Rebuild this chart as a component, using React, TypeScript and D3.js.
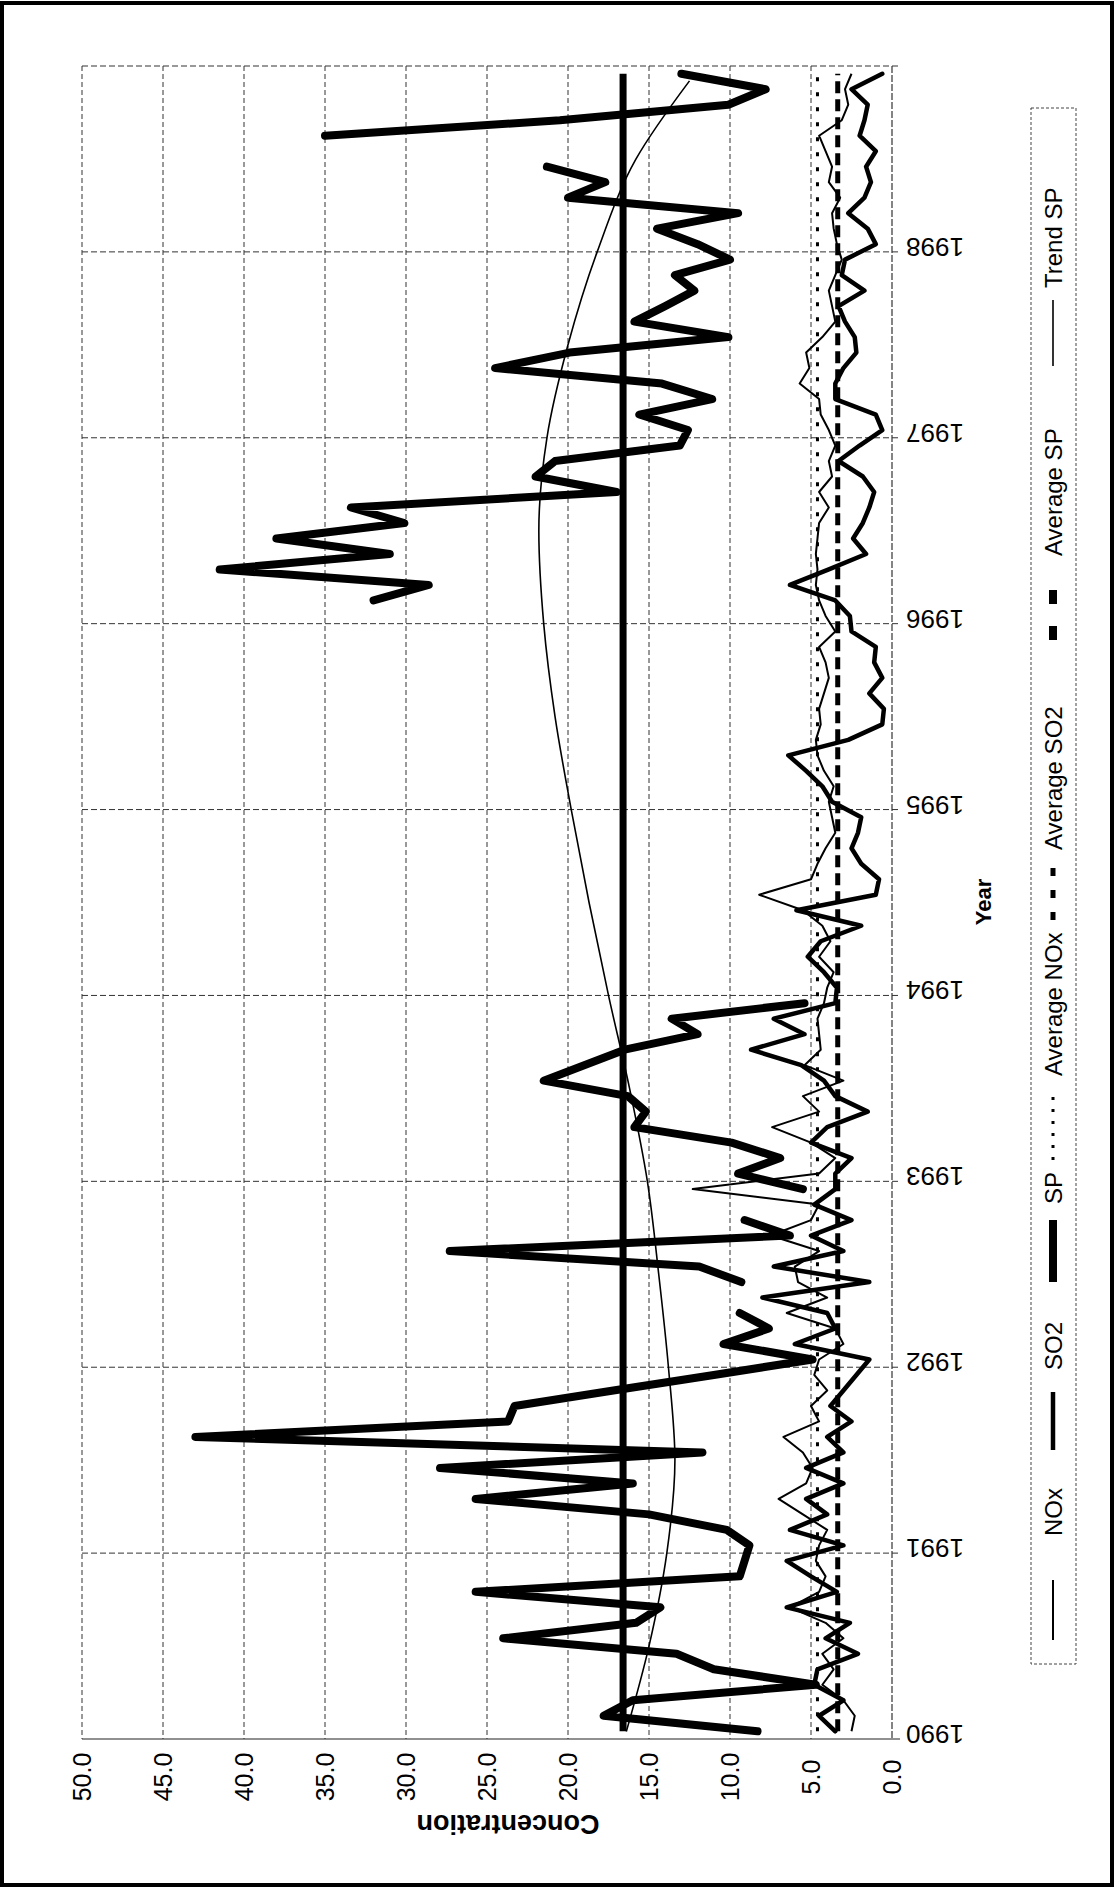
import React from "react";
import * as d3 from "d3";

// ---------- data (monthly, first value = Jan 1990) ----------
const YEARS = [1990, 1991, 1992, 1993, 1994, 1995, 1996, 1997, 1998];
const CONC_TICKS = [0, 5, 10, 15, 20, 25, 30, 35, 40, 45, 50];

const SP: (number | null)[] = [
  8.3, 17.8, 16.0, 4.7, 11.0, 13.3, 24.0, 15.8, 14.3, 25.7, 9.4, 9.1,
  8.8, 10.2, 15.0, 25.7, 16.0, 27.9, 11.7, 43.0, 23.7, 23.3, 17.2, 11.0,
  4.9, 10.4, 7.6, 9.4, null, 9.3, 11.9, 27.3, 6.3, 9.1, null, 5.5,
  9.5, 6.9, 9.9, 15.9, 15.2, 16.3, 21.5, 19.0, 16.5, 12.0, 13.6, 5.4,
  null, null, null, null, null, null, null, null, null, null, null, null,
  null, null, null, null, null, null, null, null, null, null, null, null,
  null, 32.0, 28.6, 41.5, 31.0, 38.0, 30.1, 33.4, 17.0, 22.0, 20.8, 13.1,
  12.6, 15.6, 11.1, 14.2, 24.5, 19.9, 10.1, 15.9, 14.0, 12.2, 13.4, 10.0,
  12.0, 14.5, 9.5, 20.0, 17.7, 21.3, null, 35.0, 20.5, 10.1, 7.8, 13.0,
];

const NOX: number[] = [
  2.5, 2.3, 3.0, 4.3, 3.6, 4.3, 3.0, 4.1, 6.3, 4.5, 4.1, 4.7,
  4.5, 4.0, 5.5, 7.0, 5.3, 4.9, 5.5, 6.7, 4.5, 5.0, 4.0, 4.8,
  4.5, 3.0, 3.5, 6.5, 4.0, 5.8, 6.0, 4.5, 7.5, 5.0, 4.5, 12.3,
  4.5, 3.5, 5.0, 7.4, 4.5, 5.5, 3.0, 5.4, 4.4, 4.5, 4.6, 4.2,
  4.0, 3.6, 4.5, 3.8, 4.3, 5.5, 8.2, 5.0, 4.6, 4.1, 3.5, 3.7,
  3.9, 3.6, 4.2, 4.6, 4.7, 4.4, 4.5, 4.2, 3.9, 4.1, 4.5, 3.5,
  4.1, 4.5, 4.7, 4.6, 4.7, 4.6, 4.5, 3.9, 4.5, 3.7, 3.9, 3.5,
  3.9, 4.4, 4.5, 5.7, 5.1, 5.3, 4.3, 3.5, 3.7, 3.9, 3.5, 3.1,
  3.4, 3.6, 3.7, 3.2, 3.9, 3.7, 4.1, 4.5, 3.1, 2.7, 2.9, 2.5,
];

const SO2: number[] = [
  3.5, 4.5, 3.0, 4.8, 4.6, 2.1, 4.1, 2.6, 6.5, 3.4, 5.0, 6.5,
  3.0, 6.3, 4.0, 5.3, 3.0, 5.3, 3.0, 4.0, 2.5, 3.8, 3.0, 2.2,
  1.4, 6.0, 3.5, 4.0, 8.0, 1.4, 7.3, 3.0, 5.0, 2.5, 4.8, 3.5,
  3.5, 2.5, 5.0, 4.0, 1.5, 3.5, 4.2, 5.6, 8.7, 5.4, 7.3, 3.5,
  3.4, 4.2, 5.2, 4.4, 1.9, 5.9, 1.0, 0.8, 1.9, 2.5, 2.1, 1.9,
  3.7, 4.3, 5.3, 6.4, 2.7, 0.6, 0.5, 1.4, 0.6, 1.1, 1.0, 2.5,
  2.6, 3.5, 6.3, 3.9, 1.6, 2.4, 1.8, 1.4, 1.1, 1.8, 3.3, 2.0,
  0.6, 1.0, 3.5, 3.5, 3.0, 2.2, 2.3, 2.9, 3.3, 1.7, 3.1, 2.9,
  1.0, 1.5, 2.7, 1.7, 1.3, 1.6, 1.0, 2.0, 1.7, 1.5, 2.5, 0.6,
];

const TREND_T = [1990.04, 1990.5, 1991.0, 1991.5, 1992.0, 1992.5, 1993.0, 1993.5, 1994.0, 1994.5, 1995.0, 1995.5, 1996.0, 1996.5, 1997.0, 1997.5, 1998.0, 1998.5, 1998.92];
const TREND_V = [16.4, 15.0, 13.9, 13.4, 13.8, 14.4, 15.1, 16.2, 17.5, 18.7, 19.8, 20.8, 21.5, 21.8, 21.3, 20.0, 18.2, 15.8, 12.5];

const AVG_NOX = 4.6;
const AVG_SO2 = 3.35;
const AVG_SP = 16.6;

const FONT = "'Liberation Sans Narrow', 'Arial Narrow', 'Liberation Sans', Arial, sans-serif";

export default function App() {
  const W = 1117;
  const H = 1892;
  const x = d3.scaleLinear().domain([0, 50]).range([892, 82]);
  const y = d3.scaleLinear().domain([1990, 1999]).range([1739, 66]);
  const tOf = (i: number) => 1990 + (i + 0.5) / 12;

  const seriesLine = d3
    .line<number | null>()
    .defined((d) => d != null)
    .x((d) => x(d as number))
    .y((_d, i) => y(tOf(i)));

  const trendPts: [number, number][] = TREND_T.map((t, i) => [t, TREND_V[i]]);
  const trendLine = d3
    .line<[number, number]>()
    .x((d) => x(d[1]))
    .y((d) => y(d[0]))
    .curve(d3.curveMonotoneY);

  const yStart = y(tOf(0));
  const yEnd = y(tOf(SP.length - 1));

  const legend = [
    { label: "NOx", m0: 1640, m1: 1580, t0: 1536, sw: 2, dash: "none" },
    { label: "SO2", m0: 1450, m1: 1392, t0: 1370, sw: 4.5, dash: "none" },
    { label: "SP", m0: 1282, m1: 1220, t0: 1204, sw: 8, dash: "none" },
    { label: "Average NOx", m0: 1160, m1: 1088, t0: 1076, sw: 3, dash: "3,9" },
    { label: "Average SO2", m0: 920, m1: 860, t0: 850, sw: 5, dash: "8,14" },
    { label: "Average SP", m0: 640, m1: 574, t0: 556, sw: 8, dash: "14,22" },
    { label: "Trend SP", m0: 366, m1: 300, t0: 288, sw: 1.6, dash: "none" },
  ];

  return (
    <svg
      width={W}
      height={H}
      viewBox={`0 0 ${W} ${H}`}
      style={{ position: "absolute", left: 0, top: 0, background: "#fff" }}
    >
      <rect x={0} y={0} width={W} height={H} fill="#fff" />
      {/* outer frame */}
      <rect x={2} y={3} width={1110} height={1882} fill="none" stroke="#000" strokeWidth={4} />

      {/* value gridlines (vertical on screen) */}
      {CONC_TICKS.filter((v) => v > 0).map((v) => (
        <line key={"vg" + v} x1={x(v)} x2={x(v)} y1={y(1999)} y2={y(1990)} stroke="#333" strokeWidth={1} strokeDasharray="5,3" />
      ))}
      {/* year gridlines (horizontal on screen) */}
      {[1991, 1992, 1993, 1994, 1995, 1996, 1997, 1998, 1999].map((yr) => (
        <line key={"yg" + yr} x1={x(50)} x2={x(0) + 8} y1={y(yr)} y2={y(yr)} stroke="#333" strokeWidth={1} strokeDasharray="6,3" />
      ))}
      {/* axes */}
      <line x1={x(50)} x2={x(0) + 8} y1={y(1990)} y2={y(1990)} stroke="#222" strokeWidth={1.2} />
      <line x1={x(0)} x2={x(0)} y1={y(1999)} y2={y(1990)} stroke="#333" strokeWidth={1.2} strokeDasharray="7,2" />

      {/* trend */}
      <path d={trendLine(trendPts) || ""} fill="none" stroke="#000" strokeWidth={1.6} />

      {/* averages */}
      <line x1={x(AVG_SP)} x2={x(AVG_SP)} y1={yStart} y2={yEnd} stroke="#000" strokeWidth={7} />
      <line x1={x(AVG_NOX)} x2={x(AVG_NOX)} y1={yStart} y2={yEnd} stroke="#000" strokeWidth={3} strokeDasharray="4,11" />
      <line x1={x(AVG_SO2)} x2={x(AVG_SO2)} y1={yStart} y2={yEnd} stroke="#000" strokeWidth={5} strokeDasharray="12,6" />

      {/* series */}
      <path d={seriesLine(NOX) || ""} fill="none" stroke="#000" strokeWidth={2} strokeLinejoin="round" />
      <path d={seriesLine(SO2) || ""} fill="none" stroke="#000" strokeWidth={4.5} strokeLinejoin="round" strokeLinecap="round" />
      <path d={seriesLine(SP) || ""} fill="none" stroke="#000" strokeWidth={8} strokeLinejoin="round" strokeLinecap="round" />

      {/* concentration tick labels */}
      {CONC_TICKS.map((v) => (
        <text
          key={"ct" + v}
          transform={`translate(${x(v)},1777) rotate(-90)`}
          textAnchor="middle"
          dominantBaseline="central"
          fontFamily={FONT}
          fontSize={25}
          fill="#000"
        >
          {v.toFixed(1)}
        </text>
      ))}
      <text
        transform={`translate(508,1824) rotate(180)`}
        textAnchor="middle"
        dominantBaseline="central"
        fontFamily={FONT}
        fontWeight="bold"
        fontSize={27}
      >
        Concentration
      </text>

      {/* year tick labels */}
      {YEARS.map((yr) => (
        <text
          key={"yt" + yr}
          transform={`translate(935,${y(yr) - 5}) rotate(180)`}
          textAnchor="middle"
          dominantBaseline="central"
          fontFamily={FONT}
          fontSize={26}
        >
          {yr}
        </text>
      ))}
      <text
        transform={`translate(983,902) rotate(-90)`}
        textAnchor="middle"
        dominantBaseline="central"
        fontFamily={FONT}
        fontWeight="bold"
        fontSize={22}
      >
        Year
      </text>

      {/* legend */}
      <rect x={1031} y={108} width={45} height={1556} fill="#fff" stroke="#444" strokeWidth={1} strokeDasharray="3,2" />
      {legend.map((e) => (
        <g key={e.label}>
          <line x1={1053} x2={1053} y1={e.m0} y2={e.m1} stroke="#000" strokeWidth={e.sw} strokeDasharray={e.dash} />
          <text
            transform={`translate(1053,${e.t0}) rotate(-90)`}
            textAnchor="start"
            dominantBaseline="central"
            fontFamily={FONT}
            fontSize={24}
          >
            {e.label}
          </text>
        </g>
      ))}
    </svg>
  );
}
